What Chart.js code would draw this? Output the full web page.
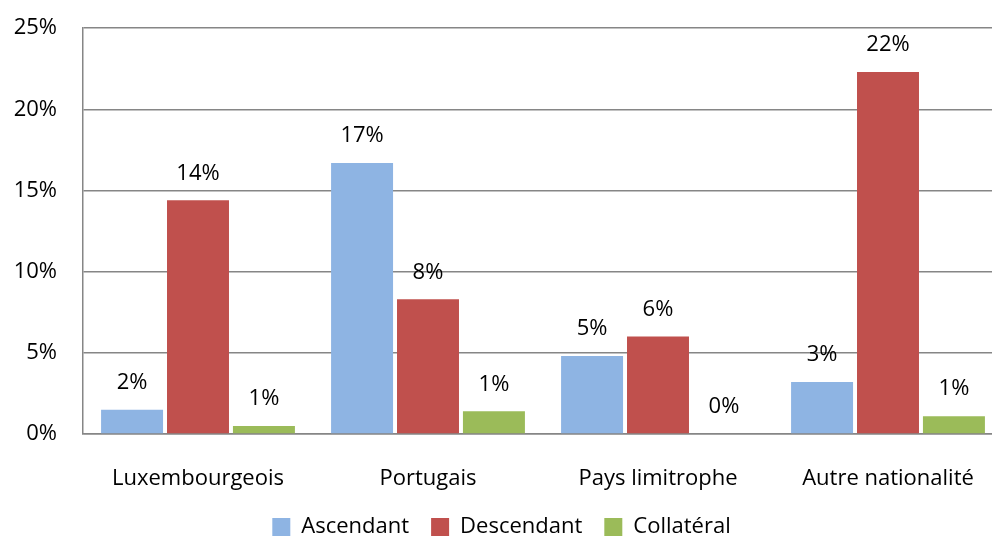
<!DOCTYPE html>
<html>
<head>
<meta charset="utf-8">
<script src="https://cdn.jsdelivr.net/npm/chart.js@4"></script>
<style>
  html, body { margin: 0; padding: 0; background: #fff; overflow: hidden; }
  #wrap { width: 1020px; height: 559px; margin-top: -11px; }
</style>
</head>
<body>
<div id="wrap"><canvas id="chart"></canvas></div>
<script>
const CATEGORIES = ["Luxembourgeois", "Portugais", "Pays limitrophe", "Autre nationalité"];
const ASCENDANT  = [1.5, 16.7, 4.8, 3.2];
const DESCENDANT = [14.4, 8.3, 6.0, 22.3];
const COLLATERAL = [0.5, 1.4, 0.0, 1.1];
const Y_TICKS = [0, 5, 10, 15, 20, 25];

const FONT = "'Open Sans', sans-serif";
const FS = 22;

// étiquettes de valeur au-dessus des barres
const valueLabels = {
  id: "valueLabels",
  afterDatasetsDraw(chart) {
    const ctx = chart.ctx;
    ctx.save();
    ctx.font = FS + "px " + FONT;
    ctx.fillStyle = "#000";
    ctx.textAlign = "center";
    ctx.textBaseline = "middle";
    chart.data.datasets.forEach((ds, i) => {
      chart.getDatasetMeta(i).data.forEach((bar, j) => {
        ctx.fillText(Math.round(ds.data[j]) + "%", bar.x, bar.y - 27);
      });
    });
    ctx.restore();
  }
};

new Chart(document.getElementById("chart"), {
  type: "bar",
  data: {
    labels: CATEGORIES,
    datasets: [
      { label: "Ascendant", data: ASCENDANT, backgroundColor: "#8EB4E3" },
      { label: "Descendant", data: DESCENDANT, backgroundColor: "#C0504D" },
      { label: "Collatéral", data: COLLATERAL, backgroundColor: "#9BBB59" }
    ]
  },
  options: {
    responsive: true, maintainAspectRatio: false, animation: false,
    layout: { padding: { top: 0, right: 17, bottom: 0, left: 0 } },
    categoryPercentage: 0.86, barPercentage: 0.94,
    plugins: {
      tooltip: { enabled: false },
      legend: {
        position: "bottom",
        labels: { color: "#000", font: { family: FONT, size: FS }, boxWidth: 18, boxHeight: 18, padding: 22 }
      }
    },
    scales: {
      x: {
        grid: { display: false, drawTicks: false },
        border: { color: "#868686", width: 1.5 },
        ticks: { color: "#000", font: { family: FONT, size: FS }, padding: 32 },
        afterFit: s => { s.height = 60; }
      },
      y: {
        min: 0, max: 25,
        afterBuildTicks: s => { s.ticks = Y_TICKS.map(v => ({ value: v })); },
        grid: { color: "#868686", lineWidth: 1.5, drawTicks: false },
        border: { color: "#868686", width: 1.5 },
        ticks: { color: "#000", font: { family: FONT, size: FS }, padding: 26, callback: v => v + "%" },
        afterFit: s => { s.width = 83; }
      }
    }
  },
  plugins: [valueLabels]
});
</script>
</body>
</html>
